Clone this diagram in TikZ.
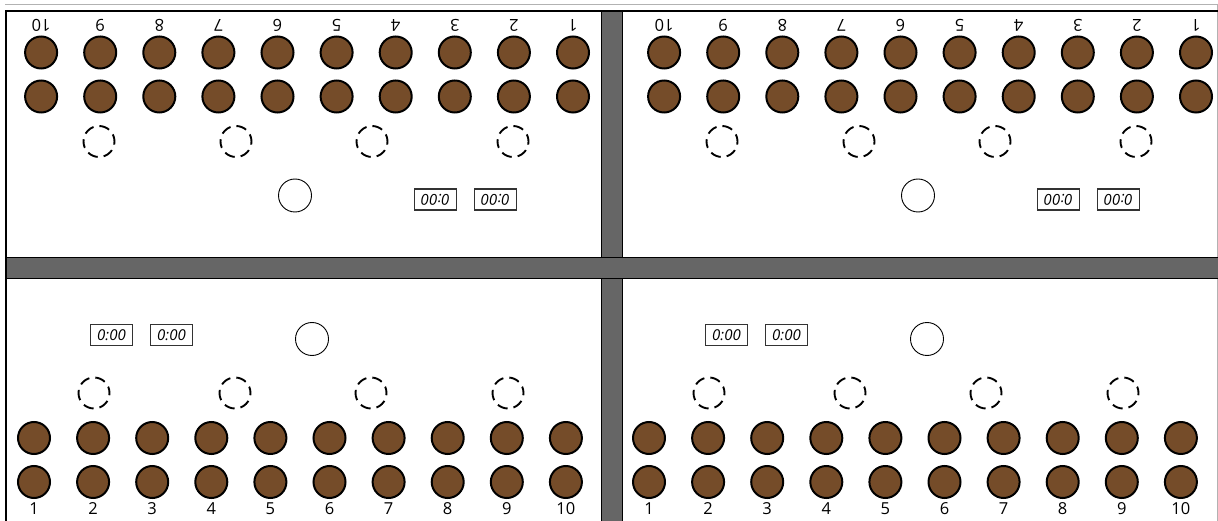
\documentclass[tikz,border=0pt]{standalone}
\usepackage{fontspec}
\setmainfont{Open Sans}
\definecolor{pegbrown}{RGB}{117,76,41}
\definecolor{bargray}{RGB}{102,102,102}
\tikzset{
  peg/.style={circle, draw=black, line width=2pt, fill=pegbrown, minimum size=32pt, inner sep=0pt},
  ghost/.style={circle, draw=black, line width=1.9pt, dash pattern=on 10.5pt off 6pt, dash phase=4pt, minimum size=31pt, inner sep=0pt},
  ball/.style={circle, draw=black, line width=0.9pt, fill=white, minimum size=33pt, inner sep=0pt},
  clockbox/.style={draw=black!80, line width=1.2pt, minimum width=42pt, minimum height=21pt, inner sep=0pt, font=\fontsize{15}{15}\selectfont\itshape},
  numlabel/.style={inner sep=0pt, font=\fontsize{16.5}{16.5}\selectfont},
  bar/.style={draw=black, line width=1.5pt, fill=bargray},
  border/.style={draw=black, line width=2pt},
  faint/.style={draw=black!30, line width=0.8pt}
}
\newcommand{\drawpanel}[1]{%
  \foreach \i in {1,...,10} {
    \pgfmathsetmacro\px{34+59.1*(\i-1)}
    \node[peg] (#1a\i) at (\px,438) {};
    \node[peg] (#1b\i) at (\px,482) {};
    \node[numlabel] (#1n\i) at (\px,509) {\i};
  }
  \foreach \gx [count=\k] in {94,235,371,508} {
    \node[ghost] (#1g\k) at (\gx,393) {};
  }
  \node[clockbox] (#1c1) at (111.5,335) {0:00};
  \node[clockbox] (#1c2) at (171.5,335) {0:00};
  \node[ball] (#1o) at (312,339) {};
}
\begin{document}
\begin{tikzpicture}[x=1pt,y=-1pt]
  \useasboundingbox (0,0) rectangle (1218,521);
  \fill[white] (0,0) rectangle (1218,521);
  % faint outer lines
  \draw[faint] (5,4) -- (1218,4);
  \draw[faint] (1217,4) -- (1217,521);
  % panels
  \begin{scope}[shift={(607,534.5)}, rotate=180, transform shape]
    \drawpanel{tl}
  \end{scope}
  \begin{scope}[shift={(1230,534.5)}, rotate=180, transform shape]
    \drawpanel{tr}
  \end{scope}
  \begin{scope}
    \drawpanel{bl}
  \end{scope}
  \begin{scope}[shift={(615,0)}]
    \drawpanel{br}
  \end{scope}
  % borders
  \draw[border] (6,521) -- (6,11) -- (1218,11);
  % bars
  \draw[bar] (601.5,11) rectangle (622.5,522);
  \draw[bar] (6,257.5) rectangle (1219,278.5);
\end{tikzpicture}
\end{document}
